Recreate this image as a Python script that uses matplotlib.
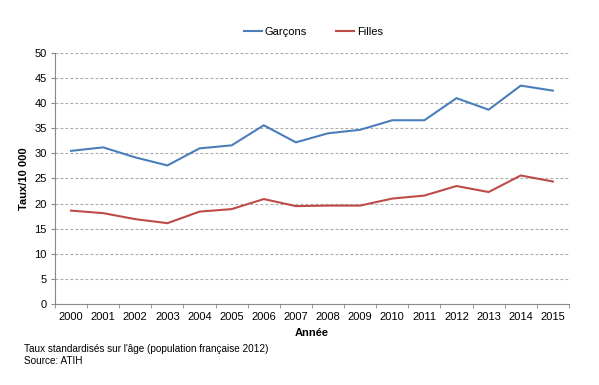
import matplotlib
matplotlib.use("Agg")
import matplotlib.pyplot as plt
import numpy as np

plt.rcParams['font.family'] = ['Liberation Sans', 'DejaVu Sans']

annees = ['2000', '2001', '2002', '2003', '2004', '2005', '2006', '2007',
          '2008', '2009', '2010', '2011', '2012', '2013', '2014', '2015']
garcons = [30.5, 31.2, 29.2, 27.6, 31.0, 31.6, 35.6, 32.2,
           34.0, 34.7, 36.6, 36.6, 41.0, 38.7, 43.5, 42.5]
filles = [18.6, 18.1, 16.9, 16.1, 18.4, 18.9, 20.9, 19.5,
          19.6, 19.6, 21.0, 21.6, 23.5, 22.3, 25.6, 24.4]
yticks = list(range(0, 51, 5))

fig = plt.figure(figsize=(5.99, 3.85), dpi=100)
ax = fig.add_axes([0.0918, 0.2104, 0.858, 0.652])

x = np.arange(len(annees))
ax.plot(x, garcons, color='#4A7EBB', lw=1.5, label='Garçons')
ax.plot(x, filles, color='#BE4B48', lw=1.5, label='Filles')

ax.set_xlim(-0.5, len(annees) - 0.5)
ax.set_ylim(0, 50)
ax.set_yticks(yticks)
ax.set_xticks(x)
ax.set_xticklabels(annees)
ax.set_xticks(np.arange(-0.5, len(annees)), minor=True)
ax.tick_params(axis='x', which='major', length=0, labelsize=8, pad=6)
ax.tick_params(axis='x', which='minor', length=3, color='#888888')
ax.tick_params(axis='y', length=3, color='#888888', labelsize=8, pad=3)

ax.grid(axis='y', color='#aaaaaa', ls=(0, (2.5, 2)), lw=0.8)
for s in ['top', 'right']:
    ax.spines[s].set_visible(False)
for s in ['left', 'bottom']:
    ax.spines[s].set_color('#888888')
    ax.spines[s].set_linewidth(0.8)

ax.set_xlabel('Année', fontsize=8, fontweight='bold', labelpad=4)
ax.set_ylabel('Taux/10 000', fontsize=8, fontweight='bold', labelpad=4)

ax.legend(loc='center', bbox_to_anchor=(0.503, 1.084), ncol=2, frameon=False,
          fontsize=8, handlelength=1.6, handletextpad=0.3, columnspacing=2.6,
          borderpad=0, borderaxespad=0)

fig.text(0.040, 0.0935, "Taux standardisés sur l'âge (population française 2012)",
         fontsize=7.2, va='center')
fig.text(0.040, 0.0623, "Source: ATIH", fontsize=7.2, va='center')

fig.savefig('out.png', dpi=100)
